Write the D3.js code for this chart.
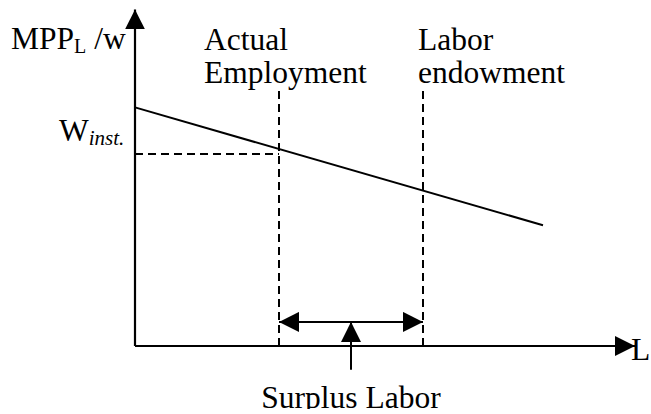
<!DOCTYPE html>
<html>
<head>
<meta charset="utf-8">
<script src="https://cdn.jsdelivr.net/npm/d3@7"></script>
<style>
  body { margin: 0; background: #fff; }
</style>
</head>
<body>
<div class="chart"></div>
<script>
// labor units on x, MPP_L / wage on y (0..10 scale)
const mpp_line = [{L: 0, v: 7.23}, {L: 8.16, v: 3.66}];
const actual_employment = 2.88;
const labor_endowment = 5.76;
const wage_inst = 5.82;
const surplus_arrow_y = 0.73;
const x_max = 10.0, y_max = 10.2;

const svg_width = 651, svg_height = 414;
const origin = {x: 135, y: 346};
const font = '"Liberation Serif"';

const svg = d3.select('.chart').append('svg')
    .attr('width', svg_width)
    .attr('height', svg_height);

const x = d3.scaleLinear().domain([0, 10]).range([origin.x, origin.x + 500]);
const y = d3.scaleLinear().domain([0, 10]).range([origin.y, origin.y - 330]);

// arrowheads
const defs = svg.append('defs');
defs.append('marker')
    .attr('id', 'head')
    .attr('viewBox', '0 0 20 20')
    .attr('refX', 20).attr('refY', 10)
    .attr('markerWidth', 20).attr('markerHeight', 20)
    .attr('markerUnits', 'userSpaceOnUse')
    .attr('orient', 'auto-start-reverse')
    .append('path').attr('d', 'M0,0 L20,10 L0,20 Z').attr('fill', '#000');
// bottom of the figure crops the caption
defs.append('clipPath').attr('id', 'frame')
    .append('rect').attr('x', 0).attr('y', 0).attr('width', svg_width).attr('height', 409);

// axes
svg.append('line')
    .attr('x1', x(0)).attr('y1', y(0))
    .attr('x2', x(0)).attr('y2', y(y_max))
    .attr('stroke', '#000').attr('stroke-width', 2.2)
    .attr('marker-end', 'url(#head)');
svg.append('line')
    .attr('x1', x(0)).attr('y1', y(0))
    .attr('x2', x(x_max)).attr('y2', y(0))
    .attr('stroke', '#000').attr('stroke-width', 2)
    .attr('marker-end', 'url(#head)');

// MPP curve
svg.append('path')
    .datum(mpp_line)
    .attr('d', d3.line().x(d => x(d.L)).y(d => y(d.v)))
    .attr('fill', 'none').attr('stroke', '#000').attr('stroke-width', 2);

// dashed guides
const dash = '8,5';
[actual_employment, labor_endowment].forEach(l => {
    svg.append('line')
        .attr('x1', x(l)).attr('x2', x(l))
        .attr('y1', y(0)).attr('y2', y(7.85))
        .attr('stroke', '#000').attr('stroke-width', 2)
        .attr('stroke-dasharray', dash);
});
svg.append('line')
    .attr('x1', x(0)).attr('x2', x(actual_employment))
    .attr('y1', y(wage_inst)).attr('y2', y(wage_inst))
    .attr('stroke', '#000').attr('stroke-width', 2)
    .attr('stroke-dasharray', dash);

// surplus labor double arrow
svg.append('line')
    .attr('x1', x(actual_employment)).attr('x2', x(labor_endowment))
    .attr('y1', y(surplus_arrow_y)).attr('y2', y(surplus_arrow_y))
    .attr('stroke', '#000').attr('stroke-width', 2)
    .attr('marker-start', 'url(#head)')
    .attr('marker-end', 'url(#head)');
const mid = (actual_employment + labor_endowment) / 2;
svg.append('line')
    .attr('x1', x(mid)).attr('x2', x(mid))
    .attr('y1', y(-0.72)).attr('y2', y(surplus_arrow_y))
    .attr('stroke', '#000').attr('stroke-width', 2)
    .attr('marker-end', 'url(#head)');

// labels
const fs = 31.5;
const label = (tx, ty, s) => svg.append('text')
    .attr('x', tx).attr('y', ty)
    .style('font-size', fs + 'px').style('font-family', font)
    .text(s);

const ylab = svg.append('text').attr('x', 11).attr('y', 49)
    .style('font-size', fs + 'px').style('font-family', font);
ylab.append('tspan').text('MPP');
ylab.append('tspan').text('L').attr('dy', 4).style('font-size', '20px');
ylab.append('tspan').text(' /w').attr('dy', -4);

const wl = svg.append('text').attr('x', 59).attr('y', 141)
    .style('font-size', fs + 'px').style('font-family', font);
wl.append('tspan').text('W');
wl.append('tspan').text('inst.').attr('dy', 4).style('font-size', '21px').style('font-style', 'italic');

label(204, 50, 'Actual');
label(204, 83, 'Employment');
label(418, 50, 'Labor');
label(418, 83, 'endowment');
label(631, 360, 'L');
label(x(mid), 408, 'Surplus Labor')
    .attr('text-anchor', 'middle')
    .attr('clip-path', 'url(#frame)');
</script>
</body>
</html>
